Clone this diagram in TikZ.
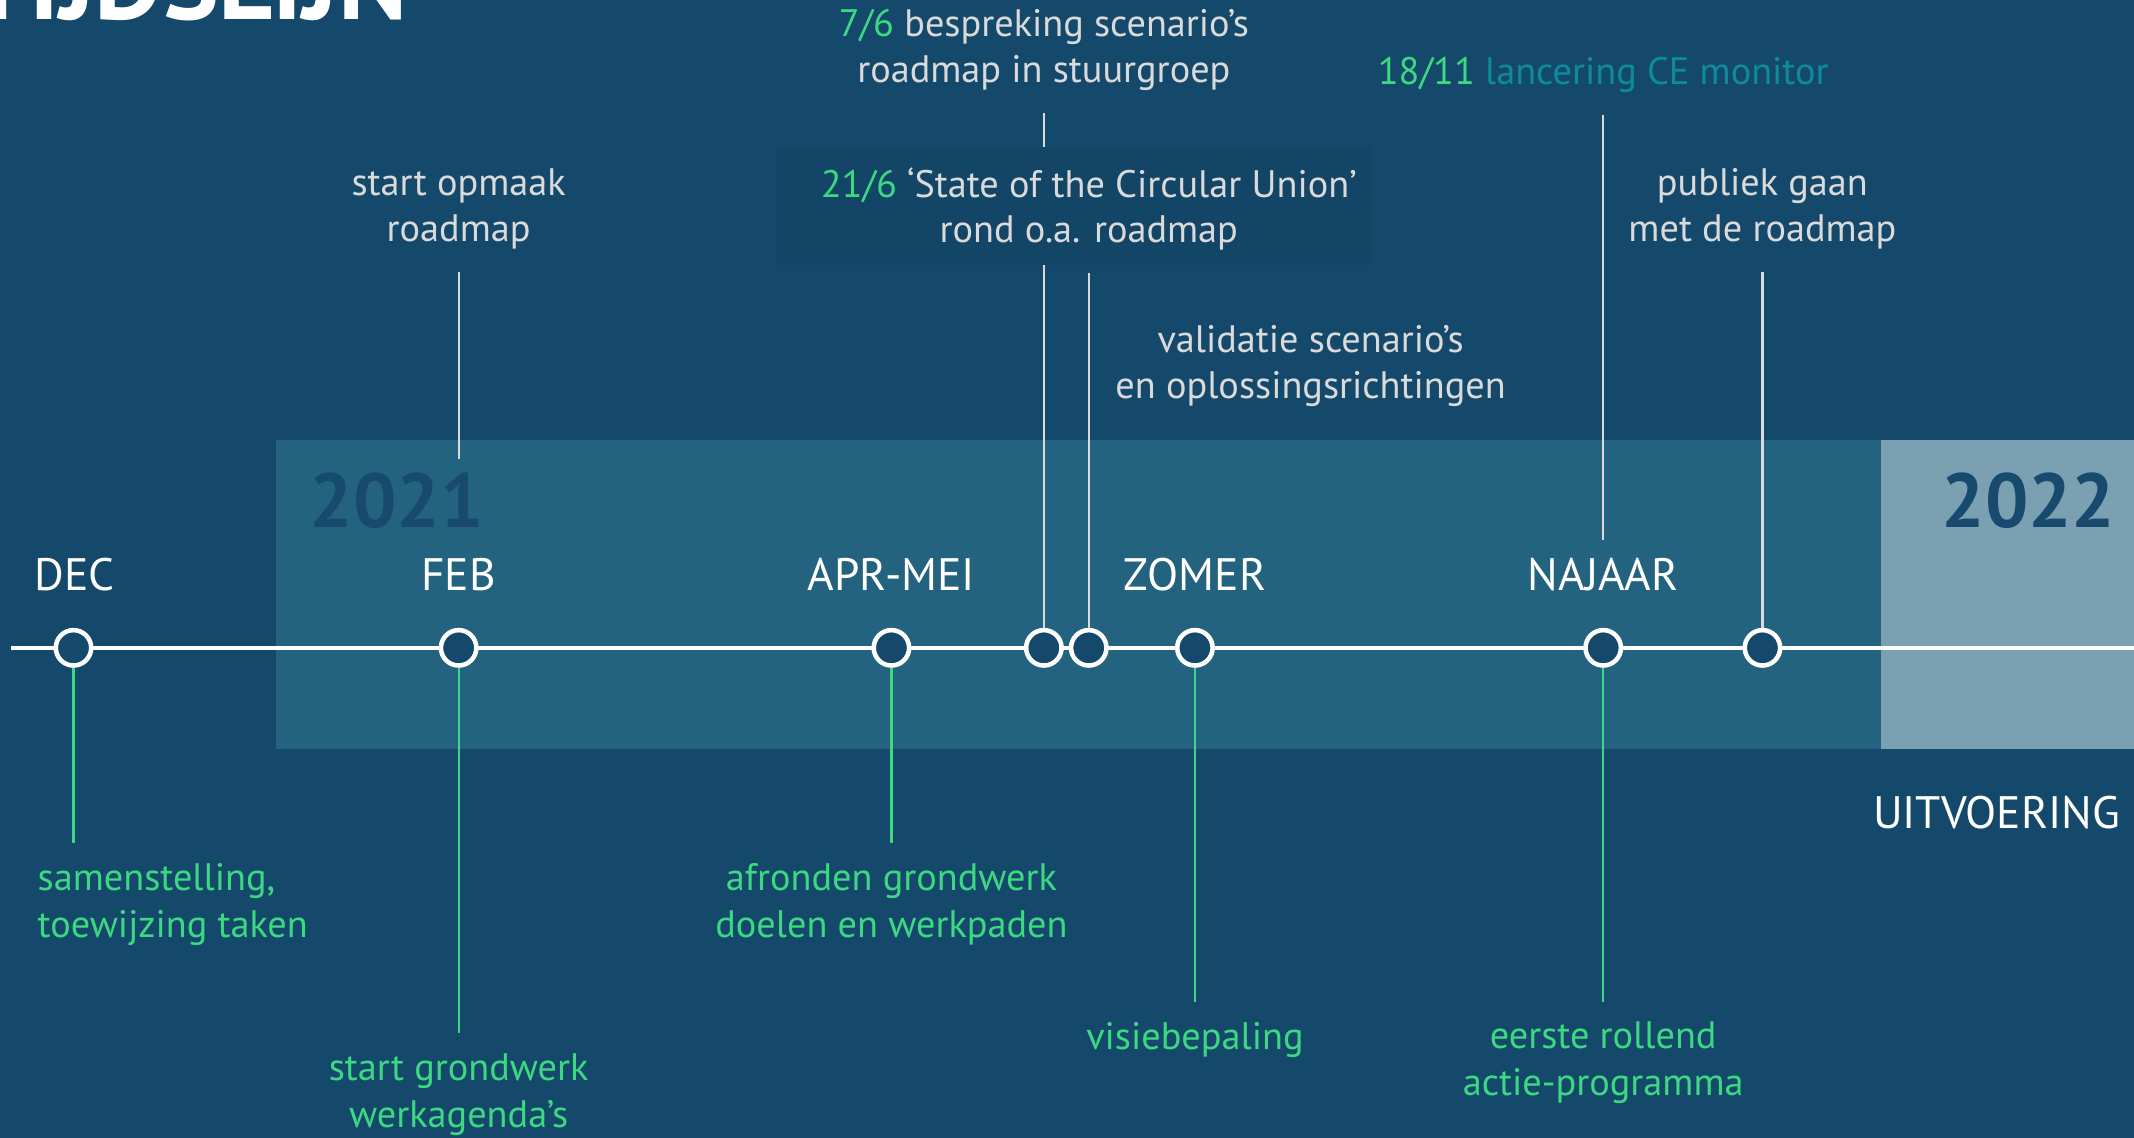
\documentclass[tikz,border=0pt]{standalone}
\usepackage{fontspec}
\setmainfont{PT Sans}
\usepackage{xcolor}
\usetikzlibrary{positioning, calc}

\definecolor{bgblue}{HTML}{15496B}
\definecolor{band21}{HTML}{24637F}
\definecolor{band22}{HTML}{7BA0B2}
\definecolor{yearblue}{HTML}{174A6D}
\definecolor{boxblue}{HTML}{134567}
\definecolor{leafgreen}{HTML}{3CD882}
\definecolor{ceteal}{HTML}{0E8B9B}
\definecolor{lightgrey}{HTML}{DADADA}

\begin{document}
\begin{tikzpicture}[x=0.01cm, y=-0.01cm,
    dot/.style={circle, draw=white, fill=bgblue, line width=0.95pt, minimum size=0.26cm, inner sep=0pt},
    month/.style={text=white, font=\fontsize{9.5}{11}\selectfont, inner sep=0pt},
    uptxt/.style={text=lightgrey, align=center, font=\fontsize{8}{9.6}\selectfont, inner sep=0pt},
    downtxt/.style={text=leafgreen, align=center, font=\fontsize{8}{9.8}\selectfont, inner sep=0pt},
    upline/.style={draw=lightgrey, line width=0.45pt},
    downline/.style={draw=leafgreen, line width=0.45pt},
    year/.style={text=yearblue, font=\bfseries\fontsize{16}{16}\selectfont, inner sep=0pt}]

    \useasboundingbox (0,0) rectangle (1568,836);
    \fill[bgblue] (0,0) rectangle (1568,836);

    % Title (cut off at the top)
    \node[anchor=base east, text=white, font=\bfseries\fontsize{22}{22}\selectfont, inner sep=0pt] (title) at (300,14) {TIJDSLIJN};

    % Years
    \fill[band21] (203,323) rectangle (1382,550);
    \fill[band22] (1382,323) rectangle (1568,550);
    \node[year, anchor=west] (y2021) at (227,368) {2021};
    \node[year, anchor=east] (y2022) at (1555,368) {2022};

    % Timeline
    \coordinate (tl-start) at (8,476);
    \coordinate (tl-end) at (1568,476);
    \draw[white, line width=0.85pt] (tl-start) -- (tl-end);

    \foreach \name/\x in {dec/54, feb/337, apr/655, jun7/767, jun21/800, zomer/878, najaar/1178, pub/1295}
    \node[dot] (\name) at (\x,476) {};

    \foreach \name/\x/\txt in {m-dec/55/DEC, m-feb/337/FEB, m-apr/655/APR-MEI, m-zomer/878/ZOMER, m-najaar/1178/NAJAAR}
    \node[month] (\name) at (\x,422) {\txt};
    \node[month] (uitv) at (1467,597) {UITVOERING};

    % Above
    \node[uptxt] (opmaak) at (337,153.5) {start opmaak\\roadmap};
    \node[uptxt] (bespr) at (767,36.5) {\textcolor{leafgreen}{7/6} bespreking scenario’s\\roadmap in stuurgroep};
    \node[uptxt] (ce) at (1178,55) {\textcolor{leafgreen}{18/11} \textcolor{ceteal}{lancering CE monitor}};
    \node[uptxt] (publiek) at (1295,153.5) {publiek gaan\\met de roadmap};
    \node[uptxt] (valid) at (963,269) {validatie scenario’s\\en oplossingsrichtingen};

    \coordinate (febtop) at (337,337);
    \coordinate (najaartop) at (1178,397);
    \draw[upline, shorten <=4.5pt] (opmaak) -- (febtop);
    \draw[upline, shorten <=4.5pt] (bespr) -- (jun7);
    \draw[upline, shorten <=4.5pt] (ce) -- (najaartop);
    \draw[upline, shorten <=4.5pt] (publiek) -- (pub);

    \node[fill=boxblue, minimum width=4.38cm, minimum height=0.87cm, inner sep=0pt] (unionbox) at (789,151.5) {};
    \node[uptxt] (union) at (800,153.5) {\textcolor{leafgreen}{21/6} ‘State of the Circular Union’\\rond o.a. roadmap};
    \draw[upline, shorten <=1.4pt] (unionbox.south -| jun21) -- (jun21);

    % Below
    \node[downtxt, align=left, anchor=west] (samen) at (27,664.5) {samenstelling,\\toewijzing taken};
    \node[downtxt] (grond) at (337,804) {start grondwerk\\werkagenda’s};
    \node[downtxt] (afrond) at (655,664.5) {afronden grondwerk\\doelen en werkpaden};
    \node[downtxt] (visie) at (878,764) {visiebepaling};
    \node[downtxt] (eerste) at (1178,781) {eerste rollend\\actie-programma};

    \draw[downline, shorten >=4pt] (dec) -- (dec |- samen.north);
    \draw[downline, shorten >=4pt] (feb) -- (grond);
    \draw[downline, shorten >=4pt] (apr) -- (afrond);
    \draw[downline, shorten >=4pt] (zomer) -- (visie);
    \draw[downline, shorten >=4pt] (najaar) -- (eerste);
\end{tikzpicture}
\end{document}
